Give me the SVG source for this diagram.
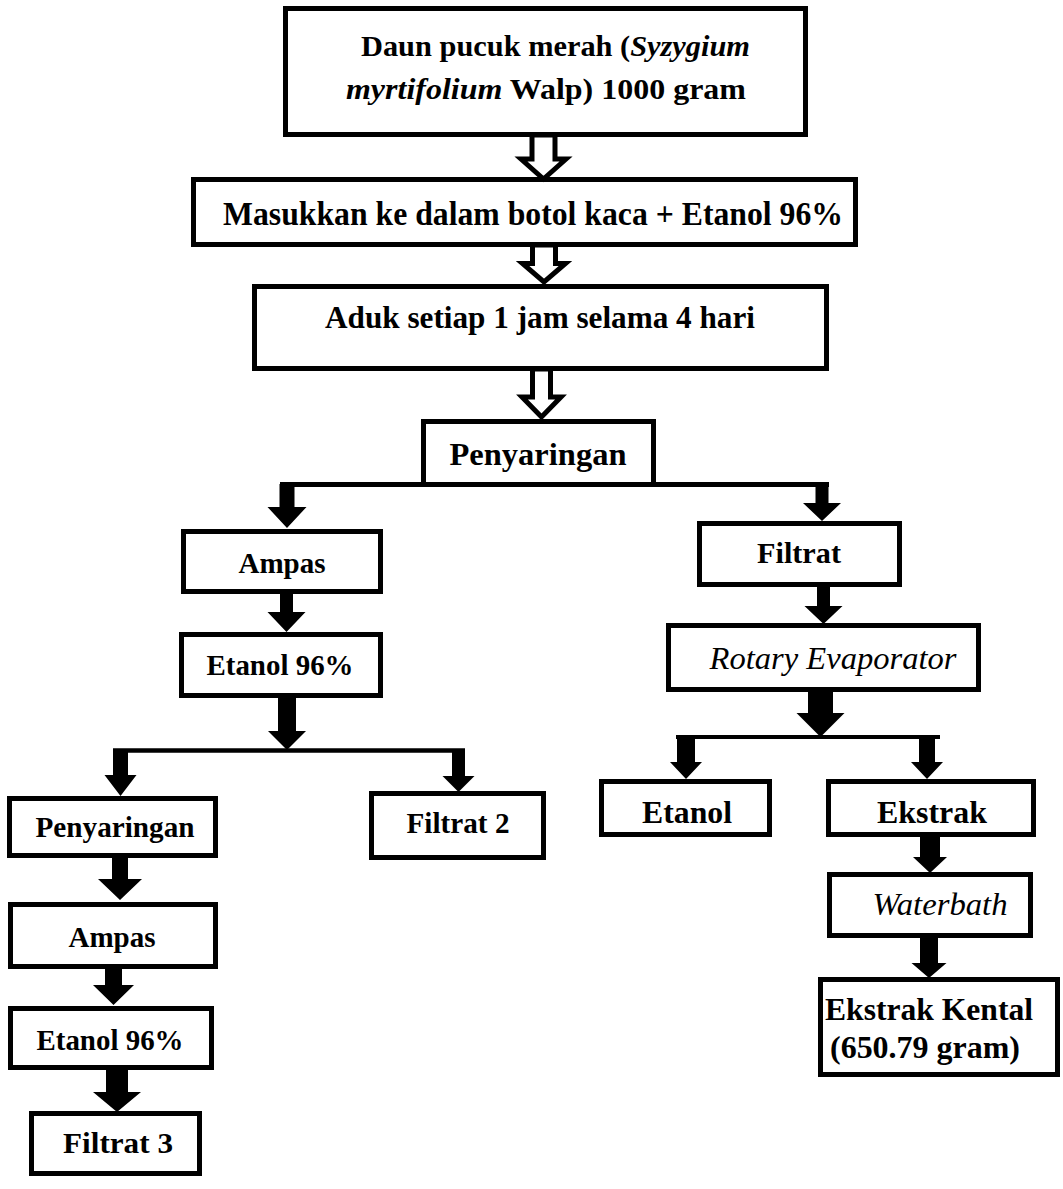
<svg xmlns="http://www.w3.org/2000/svg" width="1063" height="1189" viewBox="0 0 1063 1189">
<style>
.box{fill:#fff;stroke:#000;stroke-width:5}
.t{font-weight:bold;fill:#000;text-anchor:middle}
.it{font-style:italic;fill:#000;text-anchor:middle}
.hol{fill:#fff;stroke:#000;stroke-width:5;stroke-linejoin:miter}
.sol{fill:#000;stroke:none}
.ln{stroke:#000;stroke-width:5;fill:none}
</style>
<rect width="1063" height="1189" fill="#fff"/>
<g font-family="Liberation Serif, Tinos, Times New Roman, Nimbus Roman, FreeSerif, serif">
<g id="n1"><rect class="box" x="285.5" y="8.5" width="520" height="126"/>
<text class="t" x="555.5" y="56" font-size="30" textLength="389" lengthAdjust="spacingAndGlyphs">Daun pucuk merah (<tspan font-style="italic">Syzygium</tspan></text>
<text class="t" x="546" y="99" font-size="30" textLength="400" lengthAdjust="spacingAndGlyphs"><tspan font-style="italic">myrtifolium</tspan> Walp) 1000 gram</text></g>
<g id="n2"><rect class="box" x="193.5" y="179.5" width="662" height="65"/>
<text class="t" x="223" y="225" font-size="34" style="text-anchor:start" textLength="620" lengthAdjust="spacingAndGlyphs">Masukkan ke dalam botol kaca + Etanol 96%</text></g>
<g id="n3"><rect class="box" x="254.5" y="286.5" width="572" height="82"/>
<text class="t" x="325" y="328" font-size="32" style="text-anchor:start" textLength="430" lengthAdjust="spacingAndGlyphs">Aduk setiap 1 jam selama 4 hari</text></g>
<g id="n4"><rect class="box" x="423.5" y="421.5" width="230" height="63"/>
<text class="t" x="538" y="465" font-size="32" textLength="177" lengthAdjust="spacingAndGlyphs">Penyaringan</text></g>
<g id="n5"><rect class="box" x="183.5" y="531.5" width="197" height="60"/>
<text class="t" x="282" y="573" font-size="29" textLength="87" lengthAdjust="spacingAndGlyphs">Ampas</text></g>
<g id="n6"><rect class="box" x="181.5" y="634.5" width="199" height="61"/>
<text class="t" x="280" y="675" font-size="29" textLength="147" lengthAdjust="spacingAndGlyphs">Etanol 96%</text></g>
<g id="n7"><rect class="box" x="9.5" y="798.5" width="206" height="57"/>
<text class="t" x="115" y="837" font-size="29" textLength="159" lengthAdjust="spacingAndGlyphs">Penyaringan</text></g>
<g id="n8"><rect class="box" x="371.5" y="793.5" width="172" height="64"/>
<text class="t" x="458" y="833" font-size="29" textLength="103" lengthAdjust="spacingAndGlyphs">Filtrat 2</text></g>
<g id="n9"><rect class="box" x="10.5" y="904.5" width="205" height="62"/>
<text class="t" x="112" y="947" font-size="29" textLength="87" lengthAdjust="spacingAndGlyphs">Ampas</text></g>
<g id="n10"><rect class="box" x="10.5" y="1008.5" width="201" height="59"/>
<text class="t" x="110" y="1050" font-size="29" textLength="147" lengthAdjust="spacingAndGlyphs">Etanol 96%</text></g>
<g id="n11"><rect class="box" x="31.5" y="1113.5" width="168" height="60"/>
<text class="t" x="118" y="1153" font-size="30" textLength="110" lengthAdjust="spacingAndGlyphs">Filtrat 3</text></g>
<g id="n12"><rect class="box" x="699.5" y="523.5" width="200" height="61"/>
<text class="t" x="799" y="563" font-size="29" textLength="84" lengthAdjust="spacingAndGlyphs">Filtrat</text></g>
<g id="n13"><rect class="box" x="668.5" y="625.5" width="310" height="64"/>
<text class="it" x="833" y="669" font-size="32" textLength="247" lengthAdjust="spacingAndGlyphs">Rotary Evaporator</text></g>
<g id="n14"><rect class="box" x="601.5" y="781.5" width="168" height="53"/>
<text class="t" x="687" y="823" font-size="32" textLength="90" lengthAdjust="spacingAndGlyphs">Etanol</text></g>
<g id="n15"><rect class="box" x="828.5" y="781.5" width="205" height="53"/>
<text class="t" x="932" y="823" font-size="32" textLength="110" lengthAdjust="spacingAndGlyphs">Ekstrak</text></g>
<g id="n16"><rect class="box" x="829.5" y="874.5" width="201" height="61"/>
<text class="it" x="940" y="915" font-size="32" textLength="135" lengthAdjust="spacingAndGlyphs">Waterbath</text></g>
<g id="n17"><rect class="box" x="820.5" y="979.5" width="237" height="95"/>
<text class="t" x="929" y="1020" font-size="32" textLength="208" lengthAdjust="spacingAndGlyphs">Ekstrak Kental</text>
<text class="t" x="925" y="1058" font-size="32" textLength="190" lengthAdjust="spacingAndGlyphs">(650.79 gram)</text></g>
</g>
<g id="connectors">
<polygon class="hol" points="532,135 555,135 555,159 566,159 543.5,179 521,159 532,159"/>
<polygon class="hol" points="532.5,245 555.5,245 555.5,263.5 565.5,263.5 544,282 522.5,263.5 532.5,263.5"/>
<polygon class="hol" points="532.5,369 550.5,369 550.5,397 561,397 541.5,417 522,397 532.5,397"/>
<line class="ln" x1="280" y1="484.5" x2="829" y2="484.5"/>
<polygon class="sol" points="279.5,484 294.5,484 294.5,507 306.5,507 287,528 267.5,507 279.5,507"/>
<polygon class="sol" points="815.5,484 828.5,484 828.5,503 841,503 822,521 803,503 815.5,503"/>
<polygon class="sol" points="280,594 293,594 293,612 305.5,612 286.5,632 267.5,612 280,612"/>
<polygon class="sol" points="278,698 296,698 296,731 306,731 287,750 268,731 278,731"/>
<line class="ln" x1="113" y1="750.5" x2="465" y2="750.5" style="stroke-width:4.5"/>
<polygon class="sol" points="113,750 128,750 128,775 136.5,775 120.5,796 104.5,775 113,775"/>
<polygon class="sol" points="452,750 465,750 465,776 474.5,776 458.5,792 442.5,776 452,776"/>
<polygon class="sol" points="112,858 128,858 128,879 142,879 120,900 98,879 112,879"/>
<polygon class="sol" points="105,969 122,969 122,985 134,985 113.5,1005 93,985 105,985"/>
<polygon class="sol" points="106,1070 128,1070 128,1092 141,1092 117,1112 93,1092 106,1092"/>
<polygon class="sol" points="817,587 830,587 830,606 842.5,606 823.5,624 804.5,606 817,606"/>
<polygon class="sol" points="808,692 833,692 833,713 844.5,713 820.5,737 796.5,713 808,713"/>
<line class="ln" x1="676" y1="737" x2="940" y2="737" style="stroke-width:4"/>
<polygon class="sol" points="677,737 695,737 695,762 702,762 686,779 670,762 677,762"/>
<polygon class="sol" points="919,737 935,737 935,762 943,762 927,779 911,762 919,762"/>
<polygon class="sol" points="920,837 940,837 940,857 947,857 930,873 913,857 920,857"/>
<polygon class="sol" points="920,938 938,938 938,963 946.5,963 929,978 911.5,963 920,963"/>
</g>
</svg>
